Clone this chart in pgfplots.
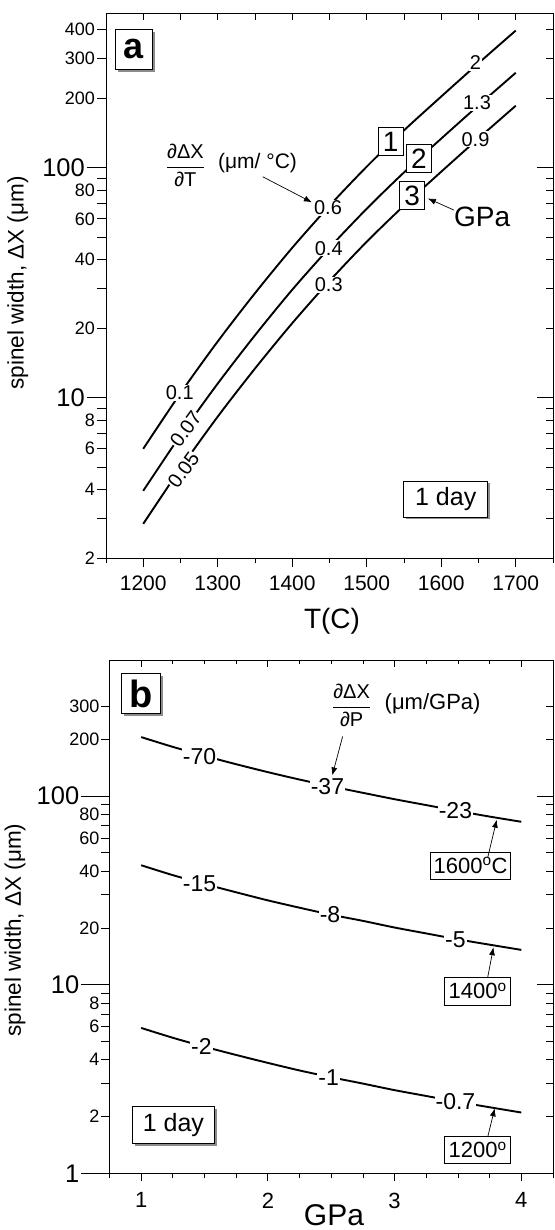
\documentclass[border=0pt]{standalone}
\usepackage{fontspec}
\setmainfont{Liberation Sans}
\usepackage{pgfplots}
\usepackage{pgfplotstable}
\pgfplotsset{compat=1.18}
\usetikzlibrary{arrows.meta}

\newcommand{\fs}[1]{\fontsize{#1}{#1}\selectfont}

% panel a: spinel width vs T for 1, 2, 3 GPa
\pgfplotstableread{
T    c1    c2    c3
1200 6.0   3.94  2.83
1250 10.47 6.87  4.93
1300 17.58 11.53 8.28
1350 28.5  18.7  13.4
1400 44.9  29.5  21.1
1450 68.4  44.9  32.2
1500 101.2 66.4  47.7
1550 145.5 95.5  68.5
1600 204.2 134   96.2
1650 285.1 187   134.3
1700 395.4 259   186.2
}\tabA

% panel b: spinel width vs P for 1600, 1400, 1200 C
\pgfplotstableread{
P    t16   t14   t12
1.00 205.6 43.0 5.90
1.25 182.4 38.1 5.23
1.50 163.5 34.2 4.69
1.75 147.6 30.9 4.24
2.00 134.0 28.0 3.85
2.25 122.4 25.6 3.51
2.50 112.6 23.5 3.23
2.75 104.1 21.8 2.99
3.00 96.3  20.1 2.76
3.25 89.6  18.7 2.57
3.50 83.4  17.4 2.39
3.75 77.9  16.3 2.24
4.00 73.1  15.3 2.10
}\tabB

\pgfplotsset{
  frame/.style={scale only axis, anchor=south west, clip=false,
    axis line style={line width=0.8pt},
    tick style={black, line width=0.8pt}},
  inner/.style={frame, tick align=inside, tick pos=right,
    xticklabels={}, yticklabels={}},
  curve/.style={black, line width=1.9pt, smooth, no markers},
}
\tikzset{
  lab/.style={fill=white, inner sep=1pt},
  arr/.style={-{Latex[length=8pt,width=6pt]}, line width=0.7pt},
  bx/.style={draw, line width=0.8pt, fill=white, inner sep=0pt},
  shd/.style={fill=black!45, inner sep=0pt, xshift=2.5pt, yshift=-2.5pt},
}

\begin{document}
\begin{tikzpicture}
\useasboundingbox (0pt,0pt) rectangle (554pt,1230pt);

% ---------------- panel a ----------------
\begin{axis}[frame, at={(106pt,671.5pt)}, width=447pt, height=545pt,
  xmin=1150, xmax=1750, ymode=log, ymin=2, ymax=469,
  tick align=outside, tick pos=left,
  major tick length=9pt, minor tick length=5pt,
  xtick={1200,1300,1400,1500,1600,1700},
  xticklabels={1200,1300,1400,1500,1600,1700},
  minor xtick={1150,1250,1350,1450,1550,1650,1750},
  ytick={2,3,4,5,6,7,8,9,20,30,40,50,60,70,80,90,200,300,400},
  yticklabels={2,{},4,{},6,{},8,{},20,{},40,{},60,{},80,{},200,300,400},
  extra y ticks={10,100}, extra y tick labels={10,100},
  extra y tick style={major tick length=19pt, yticklabel style={font=\fs{25.5}}},
  xticklabel style={font=\fs{21}, yshift=-5pt},
  yticklabel style={font=\fs{18}, inner sep=2pt},
]
\addplot[curve] table[x=T,y=c1] {\tabA};
\addplot[curve] table[x=T,y=c2] {\tabA};
\addplot[curve] table[x=T,y=c3] {\tabA};

\node[lab, font=\fs{20}] at (axis cs:1249,10.5) {0.1};
\node[lab, font=\fs{20}, rotate=54, inner sep=0.5pt] at (axis cs:1257,7.3) {0.07};
\node[lab, font=\fs{20}, rotate=54, inner sep=0.5pt] at (axis cs:1254,4.85) {0.05};
\node[lab, font=\fs{20}] at (axis cs:1448,67) {0.6};
\node[lab, font=\fs{20}] at (axis cs:1449,44.7) {0.4};
\node[lab, font=\fs{20}] at (axis cs:1449,31) {0.3};
\node[lab, font=\fs{20}] at (axis cs:1646,286) {2};
\node[lab, font=\fs{20}] at (axis cs:1648,192) {1.3};
\node[lab, font=\fs{20}] at (axis cs:1646,133) {0.9};
\node[bx, minimum width=25pt, minimum height=28pt, font=\fs{28}] at (axis cs:1532,130) {1};
\node[bx, minimum width=25pt, minimum height=28pt, font=\fs{28}] at (axis cs:1570,110) {2};
\node[bx, minimum width=25pt, minimum height=28pt, font=\fs{28}] at (axis cs:1561,75.5) {3};
\node[font=\fs{28}] at (axis cs:1655,61.3) {GPa};
\draw[arr] (axis cs:1617,65.5) -- (axis cs:1582,73.6);
\node[font=\fs{20}] at (axis cs:1256.6,102.7) {$\displaystyle\frac{\mbox{∂ΔX}}{\mbox{∂T}}$};
\node[font=\fs{21}] at (axis cs:1353.4,104.5) {(μm/ °C)};
\draw[arr] (axis cs:1360.5,91.4) -- (axis cs:1426.4,70.8);
\node[shd, minimum width=84pt, minimum height=36pt] at (axis cs:1606,3.63) {};
\node[bx, minimum width=84pt, minimum height=36pt, font=\fs{25}] at (axis cs:1606,3.63) {1 day};
\node[shd, minimum width=37pt, minimum height=40pt] at (axis cs:1187,328) {};
\node[bx, minimum width=37pt, minimum height=40pt, font=\fs{36}\bfseries] at (axis cs:1187,328) {a};
\end{axis}

\begin{axis}[inner, at={(106pt,671.5pt)}, width=447pt, height=545pt,
  xmin=1150, xmax=1750, ymode=log, ymin=2, ymax=469,
  major tick length=7pt, minor tick length=7pt,
  xtick={1200,1300,1400,1500,1600,1700},
  minor xtick={1250,1350,1450,1550,1650},
  ytick={2,3,4,5,6,7,8,9,20,30,40,50,60,70,80,90,200,300,400},
  extra y ticks={10,100}, extra y tick labels={},
  extra y tick style={major tick length=16pt},
]
\end{axis}

\node[rotate=90, font=\fs{22.5}] at (17.7pt,947pt) {spinel width, ΔX (μm)};
\node[font=\fs{28}] at (332pt,608.3pt) {T(C)};

% ---------------- panel b ----------------
\begin{axis}[frame, at={(109.5pt,56.7pt)}, width=443.5pt, height=513.3pt,
  xmin=0.75, xmax=4.25, ymode=log, ymin=1, ymax=527,
  tick align=outside, tick pos=left,
  major tick length=8pt, minor tick length=5pt,
  xtick={1,2,3,4}, xticklabels={1,2,3,4},
  minor xtick={0.75,1.25,1.5,1.75,2.25,2.5,2.75,3.25,3.5,3.75,4.25},
  ytick={2,3,4,5,6,7,8,9,20,30,40,50,60,70,80,90,200,300},
  yticklabels={2,{},4,{},6,{},8,{},20,{},40,{},60,{},80,{},200,300},
  extra y ticks={1,10,100}, extra y tick labels={1,10,100},
  extra y tick style={major tick length=28pt, yticklabel style={font=\fs{25.5}}},
  xticklabel style={font=\fs{22}, yshift=-8pt},
  yticklabel style={font=\fs{18}, inner sep=2pt},
]
\addplot[curve] table[x=P,y=t16] {\tabB};
\addplot[curve] table[x=P,y=t14] {\tabB};
\addplot[curve] table[x=P,y=t12] {\tabB};

\node[lab, font=\fs{23}] at (axis cs:1.46,163) {-70};
\node[lab, font=\fs{23}] at (axis cs:2.47,113) {-37};
\node[lab, font=\fs{23}] at (axis cs:3.48,83.4) {-23};
\node[lab, font=\fs{23}] at (axis cs:1.46,34.4) {-15};
\node[lab, font=\fs{23}] at (axis cs:2.49,23.4) {-8};
\node[lab, font=\fs{23}] at (axis cs:3.48,17.4) {-5};
\node[lab, font=\fs{23}] at (axis cs:1.475,4.68) {-2};
\node[lab, font=\fs{23}] at (axis cs:2.48,3.23) {-1};
\node[lab, font=\fs{23}] at (axis cs:3.48,2.39) {-0.7};

\node[font=\fs{20}] at (axis cs:2.661,302.6) {$\displaystyle\frac{\mbox{∂ΔX}}{\mbox{∂P}}$};
\node[font=\fs{22}] at (axis cs:3.30,309) {(μm/GPa)};
\draw[arr] (axis cs:2.59,207.4) -- (axis cs:2.508,128.8);

\node[bx, minimum width=80pt, minimum height=27pt, font=\fs{22}] at (axis cs:3.6,42.9) {1600\textsuperscript{o}C};
\draw[arr] (axis cs:3.735,47.3) -- (axis cs:3.806,75);
\node[bx, minimum width=66pt, minimum height=28pt, font=\fs{22}] at (axis cs:3.656,9.24) {1400\textsuperscript{o}};
\draw[arr] (axis cs:3.735,10.97) -- (axis cs:3.78,15.8);
\node[bx, minimum width=66pt, minimum height=27pt, font=\fs{22}] at (axis cs:3.656,1.33) {1200\textsuperscript{o}};
\draw[arr] (axis cs:3.735,1.56) -- (axis cs:3.79,2.21);

\node[shd, minimum width=82pt, minimum height=36.6pt] at (axis cs:1.254,1.80) {};
\node[bx, minimum width=82pt, minimum height=36.6pt, font=\fs{25}] at (axis cs:1.254,1.80) {1 day};
\node[shd, minimum width=39pt, minimum height=40pt] at (axis cs:1.0016,350) {};
\node[bx, minimum width=39pt, minimum height=40pt, font=\fs{38}\bfseries] at (axis cs:1.0016,350) {b};
\end{axis}

\begin{axis}[inner, at={(109.5pt,56.7pt)}, width=443.5pt, height=513.3pt,
  xmin=0.75, xmax=4.25, ymode=log, ymin=1, ymax=527,
  major tick length=7pt, minor tick length=4pt,
  xtick={1,2,3,4},
  minor xtick={1.25,1.5,1.75,2.25,2.5,2.75,3.25,3.5,3.75},
  ytick={2,3,4,5,6,7,8,9,20,30,40,50,60,70,80,90,200,300},
  extra y ticks={10,100}, extra y tick labels={},
  extra y tick style={major tick length=16pt},
]
\end{axis}

\node[rotate=90, font=\fs{22.5}] at (15pt,300pt) {spinel width, ΔX (μm)};
\node[font=\fs{30}, inner sep=0pt] at (334pt,14.5pt) {GPa};

\end{tikzpicture}
\end{document}
